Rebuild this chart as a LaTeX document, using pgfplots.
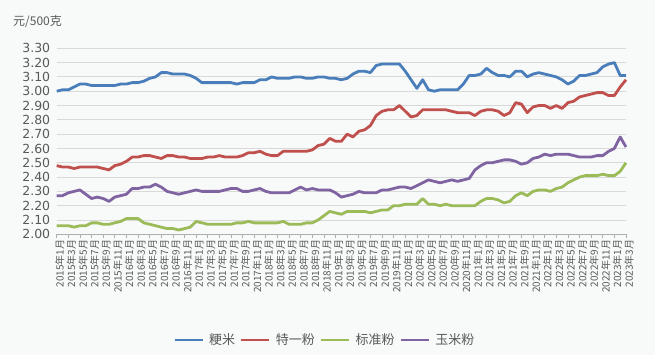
\documentclass[border=0pt]{standalone}
\usepackage{fontspec}
\setmainfont{DejaVu Sans}
\newfontfamily\cjk{Noto Sans CJK SC}
\usepackage{pgfplots}
\pgfplotsset{compat=1.18}
\usepackage{pgfplotstable}
\definecolor{bg}{RGB}{248,250,250}
\definecolor{c1}{RGB}{74,126,187}
\definecolor{c2}{RGB}{192,80,77}
\definecolor{c3}{RGB}{155,187,89}
\definecolor{c4}{RGB}{128,100,162}
\definecolor{txt}{RGB}{89,89,89}
\definecolor{grd}{RGB}{217,217,217}
\pgfplotstableread{
m a b c d
0 3.00 2.48 2.06 2.27
1 3.01 2.47 2.06 2.27
2 3.01 2.47 2.06 2.29
3 3.03 2.46 2.05 2.30
4 3.05 2.47 2.06 2.31
5 3.05 2.47 2.06 2.28
6 3.04 2.47 2.08 2.25
7 3.04 2.47 2.08 2.26
8 3.04 2.46 2.07 2.25
9 3.04 2.45 2.07 2.23
10 3.04 2.48 2.08 2.26
11 3.05 2.49 2.09 2.27
12 3.05 2.51 2.11 2.28
13 3.06 2.54 2.11 2.32
14 3.06 2.54 2.11 2.32
15 3.07 2.55 2.08 2.33
16 3.09 2.55 2.07 2.33
17 3.10 2.54 2.06 2.35
18 3.13 2.53 2.05 2.33
19 3.13 2.55 2.04 2.30
20 3.12 2.55 2.04 2.29
21 3.12 2.54 2.03 2.28
22 3.12 2.54 2.04 2.29
23 3.11 2.53 2.05 2.30
24 3.09 2.53 2.09 2.31
25 3.06 2.53 2.08 2.30
26 3.06 2.54 2.07 2.30
27 3.06 2.54 2.07 2.30
28 3.06 2.55 2.07 2.30
29 3.06 2.54 2.07 2.31
30 3.06 2.54 2.07 2.32
31 3.05 2.54 2.08 2.32
32 3.06 2.55 2.08 2.30
33 3.06 2.57 2.09 2.30
34 3.06 2.57 2.08 2.31
35 3.08 2.58 2.08 2.32
36 3.08 2.56 2.08 2.30
37 3.10 2.55 2.08 2.29
38 3.09 2.55 2.08 2.29
39 3.09 2.58 2.09 2.29
40 3.09 2.58 2.07 2.29
41 3.10 2.58 2.07 2.31
42 3.10 2.58 2.07 2.33
43 3.09 2.58 2.08 2.31
44 3.09 2.59 2.08 2.32
45 3.10 2.62 2.10 2.31
46 3.10 2.63 2.13 2.31
47 3.09 2.67 2.16 2.31
48 3.09 2.65 2.15 2.29
49 3.08 2.65 2.14 2.26
50 3.09 2.70 2.16 2.27
51 3.12 2.68 2.16 2.28
52 3.14 2.72 2.16 2.30
53 3.14 2.73 2.16 2.29
54 3.13 2.76 2.15 2.29
55 3.18 2.83 2.16 2.29
56 3.19 2.86 2.17 2.31
57 3.19 2.87 2.17 2.31
58 3.19 2.87 2.20 2.32
59 3.19 2.90 2.20 2.33
60 3.14 2.86 2.21 2.33
61 3.08 2.82 2.21 2.32
62 3.02 2.83 2.21 2.34
63 3.08 2.87 2.25 2.36
64 3.01 2.87 2.21 2.38
65 3.00 2.87 2.21 2.37
66 3.01 2.87 2.20 2.36
67 3.01 2.87 2.21 2.37
68 3.01 2.86 2.20 2.38
69 3.01 2.85 2.20 2.37
70 3.05 2.85 2.20 2.38
71 3.11 2.85 2.20 2.39
72 3.11 2.83 2.20 2.45
73 3.12 2.86 2.23 2.48
74 3.16 2.87 2.25 2.50
75 3.13 2.87 2.25 2.50
76 3.11 2.86 2.24 2.51
77 3.11 2.83 2.22 2.52
78 3.10 2.85 2.23 2.52
79 3.14 2.92 2.27 2.51
80 3.14 2.91 2.29 2.49
81 3.10 2.85 2.27 2.50
82 3.12 2.89 2.30 2.53
83 3.13 2.90 2.31 2.54
84 3.12 2.90 2.31 2.56
85 3.11 2.88 2.30 2.55
86 3.10 2.90 2.32 2.56
87 3.08 2.88 2.33 2.56
88 3.05 2.92 2.36 2.56
89 3.07 2.93 2.38 2.55
90 3.11 2.96 2.40 2.54
91 3.11 2.97 2.41 2.54
92 3.12 2.98 2.41 2.54
93 3.13 2.99 2.41 2.55
94 3.17 2.99 2.42 2.55
95 3.19 2.97 2.41 2.58
96 3.20 2.97 2.41 2.60
97 3.11 3.03 2.44 2.68
98 3.11 3.08 2.50 2.61
}\data
\begin{document}
\begin{tikzpicture}[x=1pt,y=1pt]
\fill[bg] (0,0) rectangle (655,355);
\node[anchor=west, inner sep=0pt, font=\cjk\fontsize{12}{12}\selectfont, text=txt] at (13,333) {元/500克};
\begin{axis}[
  at={(56.7pt,120.7pt)}, anchor=south west,
  scale only axis, width=569.3pt, height=186pt,
  xmin=0, xmax=98, ymin=2, ymax=3.3,
  ytick={2,2.1,2.2,2.3,2.4,2.5,2.6,2.7,2.8,2.9,3.0,3.1,3.2,3.3},
  yticklabel style={/pgf/number format/fixed, /pgf/number format/fixed zerofill, /pgf/number format/precision=2, /pgf/number format/assume math mode=true, font=\fontsize{12.5}{12.5}\selectfont, text=txt, xshift=-3pt},
  ymajorgrids, grid style={grd, line width=0.9pt},
  axis x line*=bottom, axis y line*=left,
  y axis line style={draw=none},
  x axis line style={draw=grd!80!black, line width=0.9pt, -},
  ytick style={draw=none},
  xtick={0,2,...,98},
  xtick align=outside, major tick length=4pt,
  xtick style={draw=grd!80!black, line width=0.7pt},
  xticklabel={\pgfmathtruncatemacro\yr{2015+floor(\tick/12)}\pgfmathtruncatemacro\mo{mod(round(\tick),12)+1}\yr{}年\mo{}月},
  xticklabel style={rotate=90, anchor=east, font=\cjk\fontsize{10}{10}\selectfont, text=txt, inner sep=1pt, yshift=-3pt},
  clip=false,
  legend columns=4,
  legend style={at={(0.471,-0.568)}, anchor=center, draw=none, fill=none, font=\cjk\fontsize{13}{13}\selectfont, text=txt, column sep=3pt},
  legend image code/.code={\draw[#1, line width=2.8pt] (0pt,0pt) -- (28pt,0pt);},
  every axis plot/.append style={line width=2.8pt, line join=round},
]
\addplot[c1] table[x=m, y=a] {\data};
\addplot[c2] table[x=m, y=b] {\data};
\addplot[c3] table[x=m, y=c] {\data};
\addplot[c4] table[x=m, y=d] {\data};
\legend{粳米,特一粉,标准粉,玉米粉}
\end{axis}
\pgfresetboundingbox
\useasboundingbox (0,0) rectangle (655,355);
\end{tikzpicture}
\end{document}
